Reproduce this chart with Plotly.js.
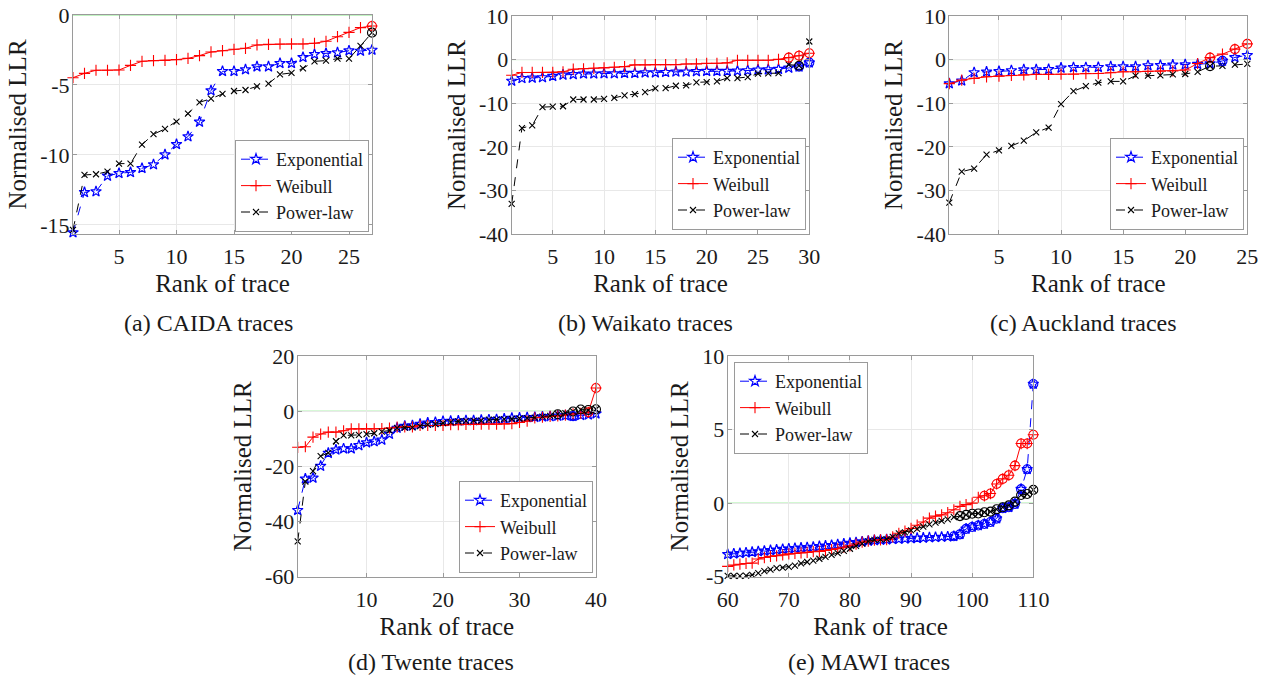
<!DOCTYPE html>
<html>
<head>
<meta charset="utf-8">
<script src="https://cdn.plot.ly/plotly-3.0.1.min.js"></script>
<style>html,body{margin:0;padding:0;background:#fff}#chart{width:1263px;height:677px}</style>
</head>
<body>
<div id="chart"></div>
<script>
// ---------------- DATA ----------------
const seriesNames = ["Exponential", "Weibull", "Power-law"];

// (a) CAIDA, ranks 1..27
const caidaRank = [1,2,3,4,5,6,7,8,9,10,11,12,13,14,15,16,17,18,19,20,21,22,23,24,25,26,27];
const caidaExp = [-15.55,-12.67,-12.62,-11.5,-11.31,-11.24,-10.95,-10.69,-9.98,-9.24,-8.69,-7.64,-5.4,-4.02,-4.02,-3.9,-3.69,-3.69,-3.45,-3.45,-3.02,-2.81,-2.74,-2.69,-2.55,-2.57,-2.5];
const caidaWei = [-4.48,-4.17,-3.95,-3.95,-3.93,-3.6,-3.31,-3.26,-3.24,-3.19,-3.1,-2.9,-2.64,-2.55,-2.45,-2.38,-2.14,-2.1,-2.07,-2.07,-2.07,-2.02,-1.88,-1.55,-1.24,-0.9,-0.79];
const caidaPow = [-15.36,-11.43,-11.38,-11.19,-10.62,-10.62,-9.26,-8.52,-8.14,-7.62,-7.05,-6.24,-5.98,-5.64,-5.43,-5.36,-5.1,-4.9,-4.24,-4.14,-3.81,-3.31,-3.26,-3.12,-3.12,-2.21,-1.26];
const caidaExpCircled = [];
const caidaWeiCircled = [27];
const caidaPowCircled = [27];

// (b) Waikato, ranks 1..30
const waikatoRank = [1,2,3,4,5,6,7,8,9,10,11,12,13,14,15,16,17,18,19,20,21,22,23,24,25,26,27,28,29,30];
const waikatoExp = [-4.9,-4.3,-4.2,-4.1,-3.8,-3.5,-3.4,-3.25,-3.25,-3.2,-3.2,-3.1,-3.1,-3.0,-3.0,-2.9,-2.8,-2.8,-2.7,-2.65,-2.65,-2.65,-2.6,-2.5,-2.35,-2.3,-2.2,-1.9,-1.65,-0.7];
const waikatoWei = [-3.6,-2.95,-2.95,-2.95,-2.95,-2.8,-2.2,-2.1,-2.0,-1.9,-1.75,-1.6,-1.2,-1.2,-1.15,-1.15,-1.15,-1.0,-1.0,-0.85,-0.85,-0.75,-0.15,-0.15,-0.15,-0.15,0.05,0.45,0.9,1.45];
const waikatoPow = [-33.1,-15.7,-15.1,-10.9,-10.8,-10.7,-9.15,-9.15,-9.15,-9.0,-8.77,-8.23,-7.9,-7.46,-6.6,-6.55,-6.0,-5.9,-5.23,-5.15,-5.0,-4.23,-4.23,-4.0,-3.23,-3.15,-3.1,-1.15,-1.4,4.15];
const waikatoExpCircled = [29,30];
const waikatoWeiCircled = [28,29,30];
const waikatoPowCircled = [29];

// (c) Auckland, ranks 1..25
const aucklandRank = [1,2,3,4,5,6,7,8,9,10,11,12,13,14,15,16,17,18,19,20,21,22,23,24,25];
const aucklandExp = [-5.5,-4.85,-2.95,-2.8,-2.7,-2.5,-2.3,-2.3,-2.25,-1.9,-1.8,-1.8,-1.75,-1.6,-1.6,-1.6,-1.35,-1.3,-1.2,-1.15,-1.05,-0.9,-0.3,0.5,1.0];
const aucklandWei = [-5.5,-4.7,-4.3,-3.95,-3.8,-3.65,-3.5,-3.4,-3.4,-3.35,-3.35,-3.2,-3.2,-3.0,-2.8,-2.8,-2.7,-2.65,-2.6,-2.4,-0.9,0.45,1.25,2.4,3.6];
const aucklandPow = [-32.8,-25.7,-25.0,-21.8,-20.8,-19.8,-18.6,-16.7,-15.6,-10.2,-7.25,-6.1,-5.3,-5.0,-5.0,-3.7,-3.7,-3.6,-3.4,-3.3,-2.8,-1.5,-1.45,-1.15,-1.0];
const aucklandExpCircled = [23];
const aucklandWeiCircled = [22,24,25];
const aucklandPowCircled = [22];

// (d) Twente, ranks 1..40
const twenteRank = [1,2,3,4,5,6,7,8,9,10,11,12,13,14,15,16,17,18,19,20,21,22,23,24,25,26,27,28,29,30,31,32,33,34,35,36,37,38,39,40];
const twenteExp = [-35.9,-24.5,-24.2,-19.9,-15.2,-14.0,-13.6,-13.6,-12.4,-11.4,-11.0,-10.4,-8.3,-6.1,-5.4,-5.2,-4.7,-4.2,-4.0,-3.7,-3.6,-3.5,-3.4,-3.4,-3.25,-3.1,-3.0,-2.8,-2.5,-2.4,-2.3,-2.2,-2.0,-1.9,-1.7,-1.6,-1.8,-1.5,-1.3,-0.9];
const twenteWei = [-13.1,-12.9,-9.4,-8.3,-7.6,-7.6,-7.1,-6.4,-6.4,-6.4,-6.4,-6.3,-6.1,-5.8,-5.7,-5.7,-5.2,-5.2,-5.2,-5.2,-4.9,-4.9,-4.8,-4.8,-4.7,-4.7,-4.7,-4.6,-4.5,-4.1,-3.6,-2.4,-2.2,-1.9,-1.7,-1.4,-1.0,-0.8,-0.4,8.4];
const twentePow = [-47.2,-25.5,-21.7,-16.3,-15.1,-10.9,-8.8,-8.8,-8.6,-8.3,-8.0,-7.4,-7.0,-6.1,-6.0,-5.9,-5.4,-4.9,-4.7,-4.3,-4.0,-3.7,-3.5,-3.4,-3.4,-3.1,-3.0,-2.9,-2.8,-2.65,-2.5,-2.3,-2.0,-1.7,-1.1,-0.7,-0.1,0.6,0.4,0.7];
const twenteExpCircled = [37];
const twenteWeiCircled = [39,40];
const twentePowCircled = [35,37,38,39,40];

// (e) MAWI, ranks 60..110
const mawiRank = [60,61,62,63,64,65,66,67,68,69,70,71,72,73,74,75,76,77,78,79,80,81,82,83,84,85,86,87,88,89,90,91,92,93,94,95,96,97,98,99,100,101,102,103,104,105,106,107,108,109,110];
const mawiExp = [-3.48,-3.44,-3.41,-3.37,-3.33,-3.29,-3.25,-3.21,-3.17,-3.13,-3.1,-3.07,-3.04,-3.01,-2.98,-2.94,-2.9,-2.86,-2.82,-2.77,-2.72,-2.67,-2.62,-2.57,-2.53,-2.5,-2.48,-2.46,-2.44,-2.42,-2.4,-2.38,-2.36,-2.34,-2.32,-2.3,-2.28,-2.25,-2.12,-1.75,-1.62,-1.52,-1.42,-1.28,-1.05,-0.35,-0.28,-0.05,0.95,2.3,8.1];
const mawiWei = [-4.3,-4.2,-4.15,-4.1,-4.08,-3.8,-3.7,-3.62,-3.58,-3.52,-3.45,-3.42,-3.38,-3.35,-3.3,-3.28,-3.22,-3.15,-3.1,-3.0,-2.9,-2.78,-2.65,-2.58,-2.52,-2.5,-2.48,-2.3,-2.05,-1.9,-1.72,-1.5,-1.28,-1.02,-0.88,-0.8,-0.65,-0.45,-0.22,-0.1,0.0,0.4,0.5,0.65,1.3,1.65,1.9,2.55,4.05,4.05,4.65];
const mawiPow = [-4.95,-4.95,-4.95,-4.93,-4.88,-4.75,-4.62,-4.52,-4.42,-4.38,-4.33,-4.25,-4.1,-4.0,-3.9,-3.78,-3.65,-3.52,-3.4,-3.25,-3.1,-2.9,-2.75,-2.6,-2.5,-2.48,-2.45,-2.3,-2.05,-1.98,-1.85,-1.75,-1.6,-1.45,-1.32,-1.2,-1.1,-0.95,-0.88,-0.8,-0.72,-0.7,-0.62,-0.58,-0.42,-0.28,-0.15,0.1,0.55,0.62,0.9];
const mawiExpCircled = [97,98,99,100,101,102,103,104,105,106,107,108,109,110];
const mawiWeiCircled = [102,103,104,105,106,107,108,109,110];
const mawiPowCircled = [98,99,100,101,102,103,104,105,106,107,108,109,110];

// tick labels
const caidaXTicks = [5,10,15,20,25];
const caidaYTicks = [-15,-10,-5,0];
const waikatoXTicks = [5,10,15,20,25,30];
const aucklandXTicks = [5,10,15,20,25];
const llrYTicks40 = [-40,-30,-20,-10,0,10];
const twenteXTicks = [10,20,30,40];
const twenteYTicks = [-60,-40,-20,0,20];
const mawiXTicks = [60,70,80,90,100,110];
const mawiYTicks = [-5,0,5,10];

const captions = ["(a) CAIDA traces","(b) Waikato traces","(c) Auckland traces","(d) Twente traces","(e) MAWI traces"];

// ---------------- BUILD ----------------
const W = 1263, H = 677;
const FONT = "'Liberation Serif', 'Times New Roman', Times, serif";
const colExp = "#0000ff", colWei = "#ff0000", colPow = "#000000";

const panels = [
  {rank: caidaRank, exp: caidaExp, wei: caidaWei, pow: caidaPow, ce: caidaExpCircled, cw: caidaWeiCircled, cp: caidaPowCircled,
   xr:[1,27], yr:[-15.65,0], xt: caidaXTicks, yt: caidaYTicks, px:[73,372], py:[15,234], leg:[369,232,'right','bottom']},
  {rank: waikatoRank, exp: waikatoExp, wei: waikatoWei, pow: waikatoPow, ce: waikatoExpCircled, cw: waikatoWeiCircled, cp: waikatoPowCircled,
   xr:[1,30], yr:[-40,10], xt: waikatoXTicks, yt: llrYTicks40, px:[511.7,809.3], py:[16,234], leg:[806,230,'right','bottom']},
  {rank: aucklandRank, exp: aucklandExp, wei: aucklandWei, pow: aucklandPow, ce: aucklandExpCircled, cw: aucklandWeiCircled, cp: aucklandPowCircled,
   xr:[1,25], yr:[-40,10], xt: aucklandXTicks, yt: llrYTicks40, px:[949.3,1247.3], py:[16,234], leg:[1244,230,'right','bottom']},
  {rank: twenteRank, exp: twenteExp, wei: twenteWei, pow: twentePow, ce: twenteExpCircled, cw: twenteWeiCircled, cp: twentePowCircled,
   xr:[1,40], yr:[-60,20], xt: twenteXTicks, yt: twenteYTicks, px:[297.7,596], py:[356,576.7], leg:[593,573,'right','bottom']},
  {rank: mawiRank, exp: mawiExp, wei: mawiWei, pow: mawiPow, ce: mawiExpCircled, cw: mawiWeiCircled, cp: mawiPowCircled,
   xr:[60,110], yr:[-5,10], xt: mawiXTicks, yt: mawiYTicks, px:[727.7,1033.3], py:[356,576.7], leg:[734,362,'left','top']}
];
const capPos = [[208,323],[645,323],[1083,323],[431,662],[869,662]];

const traces = [];
const layout = {
  width: W, height: H, margin:{l:0,r:0,t:0,b:0}, paper_bgcolor:'#fff', plot_bgcolor:'#fff',
  font:{family:FONT, color:'#1a1a1a'}, shapes:[], annotations:[]
};

function circled(rank, vals, which){
  const xs=[], ys=[];
  which.forEach(r=>{ const i=rank.indexOf(r); if(i>=0){xs.push(r); ys.push(vals[i]);} });
  return {xs, ys};
}

panels.forEach((p, k)=>{
  const n = k+1;
  const xa = n===1?'x':'x'+n, ya = n===1?'y':'y'+n;
  const lg = n===1?'legend':'legend'+n;
  const base = {xaxis:xa, yaxis:ya, legend:lg, type:'scatter', mode:'lines+markers', cliponaxis:false};
  traces.push(Object.assign({}, base, {name:seriesNames[0], x:p.rank, y:p.exp,
    line:{color:colExp, width:1, dash:'dash'}, marker:{symbol:'star-open', size:8, color:colExp, line:{width:1.2, color:colExp}}}));
  traces.push(Object.assign({}, base, {name:seriesNames[1], x:p.rank, y:p.wei,
    line:{color:colWei, width:1}, marker:{symbol:'cross-thin-open', size:8, color:colWei, line:{width:1.1, color:colWei}}}));
  traces.push(Object.assign({}, base, {name:seriesNames[2], x:p.rank, y:p.pow,
    line:{color:colPow, width:1, dash:'dash'}, marker:{symbol:'x-thin-open', size:6, color:colPow, line:{width:1.1, color:colPow}}}));
  [[p.ce,p.exp,colExp],[p.cw,p.wei,colWei],[p.cp,p.pow,colPow]].forEach(([which, vals, c])=>{
    if(!which.length) return;
    const d = circled(p.rank, vals, which);
    traces.push({xaxis:xa, yaxis:ya, type:'scatter', mode:'markers', x:d.xs, y:d.ys, showlegend:false, hoverinfo:'skip', cliponaxis:false,
      marker:{symbol:'circle-open', size:9, color:c, line:{width:1.1, color:c}}});
  });

  const common = {showgrid:true, gridcolor:'#e8e8e8', gridwidth:1, zeroline:false, showline:true, linecolor:'#9a9a9a', linewidth:1,
    mirror:'ticks', ticks:'inside', ticklen:4, tickcolor:'#9a9a9a', tickfont:{family:FONT, size:22, color:'#1a1a1a'}, fixedrange:true};
  const xKey = n===1?'xaxis':'xaxis'+n, yKey = n===1?'yaxis':'yaxis'+n;
  layout[xKey] = Object.assign({}, common, {domain:[p.px[0]/W, p.px[1]/W], range:p.xr, anchor:ya, ticklabelstandoff:3,
    tickvals:p.xt, ticktext:p.xt.map(String), title:{text:'Rank of trace', font:{family:FONT,size:25,color:'#1a1a1a'}, standoff:6}});
  layout[yKey] = Object.assign({}, common, {domain:[1-p.py[1]/H, 1-p.py[0]/H], range:p.yr, anchor:xa, ticklabelstandoff:-2,
    tickvals:p.yt, ticktext:p.yt.map(String), title:{text:'Normalised LLR', font:{family:FONT,size:25,color:'#1a1a1a'}, standoff:6}});
  layout[lg] = {x:p.leg[0]/W, y:1-p.leg[1]/H, xanchor:p.leg[2], yanchor:p.leg[3], xref:'paper', yref:'paper',
    bgcolor:'#fff', bordercolor:'#9a9a9a', borderwidth:1, font:{family:FONT, size:18, color:'#1a1a1a'},
    itemwidth:30, tracegroupgap:0};
  layout.shapes.push({type:'line', xref:xa+' domain', yref:ya, x0:0, x1:1, y0:0, y1:0, layer:'below',
    line:{color:'#86e886', width:1}});
  layout.annotations.push({text:captions[k], xref:'paper', yref:'paper', x:capPos[k][0]/W, y:1-capPos[k][1]/H,
    xanchor:'center', yanchor:'middle', showarrow:false, font:{family:FONT, size:24, color:'#1a1a1a'}});
});

Plotly.newPlot('chart', traces, layout, {displayModeBar:false, staticPlot:true});
</script>
</body>
</html>
